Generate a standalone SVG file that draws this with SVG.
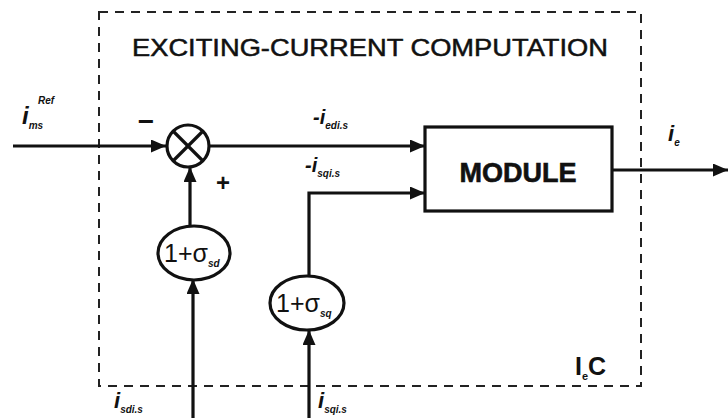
<svg xmlns="http://www.w3.org/2000/svg" width="728" height="418" viewBox="0 0 728 418">
<defs>
<marker id="ah" viewBox="0 0 15 13" refX="15" refY="6.5" markerWidth="15" markerHeight="13" markerUnits="userSpaceOnUse" orient="auto">
<path d="M0,0 L15,6.5 L0,13 Z" fill="#111"/>
</marker>
<style>
.ln{stroke:#111;stroke-width:3.2;fill:none}
.sh{stroke:#111;stroke-width:3.2;fill:#fff}
.frame{stroke:#222;stroke-width:2;fill:none;stroke-dasharray:9,7}
.t{font-family:"Liberation Sans",Arial,sans-serif;fill:#111}
.lab{font-family:"Liberation Sans",Arial,sans-serif;fill:#111;font-weight:bold;font-style:italic}
</style>
</defs>
<rect width="728" height="418" fill="#fff"/>
<g id="frame">
<rect class="frame" x="99" y="12" width="542" height="374"/>
<text class="t" x="370" y="56" font-size="24" text-anchor="middle" stroke="#111" stroke-width="0.5" textLength="476" lengthAdjust="spacingAndGlyphs">EXCITING-CURRENT COMPUTATION</text>
<text class="t" x="575" y="375" font-size="25" font-weight="bold">I<tspan font-size="11" dy="5">e</tspan><tspan dy="-5">C</tspan></text>
</g>
<g id="connectors">
<line class="ln" x1="13" y1="146" x2="166" y2="146" marker-end="url(#ah)"/>
<line class="ln" x1="190" y1="225" x2="190" y2="167" marker-end="url(#ah)"/>
<line class="ln" x1="193" y1="418" x2="193" y2="279" marker-end="url(#ah)"/>
<line class="ln" x1="209" y1="146" x2="425" y2="146" marker-end="url(#ah)"/>
<polyline class="ln" points="309,276 309,193 425,193" marker-end="url(#ah)"/>
<line class="ln" x1="309" y1="418" x2="309" y2="330" marker-end="url(#ah)"/>
<line class="ln" x1="612" y1="170" x2="728" y2="170" marker-end="url(#ah)"/>
</g>
<g id="sum">
<circle class="sh" cx="188" cy="146" r="21"/>
<line class="ln" x1="173" y1="131" x2="203" y2="161"/>
<line class="ln" x1="203" y1="131" x2="173" y2="161"/>
<text class="t" x="146" y="131" font-size="28" font-weight="bold" text-anchor="middle">−</text>
<text class="t" x="223" y="191" font-size="24" font-weight="bold" text-anchor="middle">+</text>
</g>
<g id="gain-sd">
<ellipse class="sh" cx="194" cy="253" rx="36" ry="27"/>
<text class="t" x="164" y="262" font-size="25">1+σ<tspan class="lab" font-size="10" dy="5">sd</tspan></text>
</g>
<g id="gain-sq">
<ellipse class="sh" cx="307" cy="303" rx="37" ry="27"/>
<text class="t" x="276" y="312" font-size="25">1+σ<tspan class="lab" font-size="10" dy="5">sq</tspan></text>
</g>
<g id="module">
<rect class="sh" x="425" y="127" width="187" height="84"/>
<text class="t" x="518" y="182" font-size="27" font-weight="bold" text-anchor="middle" stroke="#111" stroke-width="0.6">MODULE</text>
</g>
<g id="labels">
<text class="lab" x="22" y="124" font-size="24">i<tspan font-size="10" dy="5">ms</tspan></text>
<text class="lab" x="38" y="104" font-size="10">Ref</text>
<text class="lab" x="313" y="124" font-size="20">-i<tspan font-size="10" dy="5">edi.s</tspan></text>
<text class="lab" x="305" y="172" font-size="20">-i<tspan font-size="10" dy="5">sqi.s</tspan></text>
<text class="lab" x="668" y="141" font-size="22">i<tspan font-size="10" dy="5">e</tspan></text>
<text class="lab" x="114" y="408" font-size="22">i<tspan font-size="10" dy="5">sdi.s</tspan></text>
<text class="lab" x="318" y="408" font-size="22">i<tspan font-size="10" dy="5">sqi.s</tspan></text>
</g>
</svg>
